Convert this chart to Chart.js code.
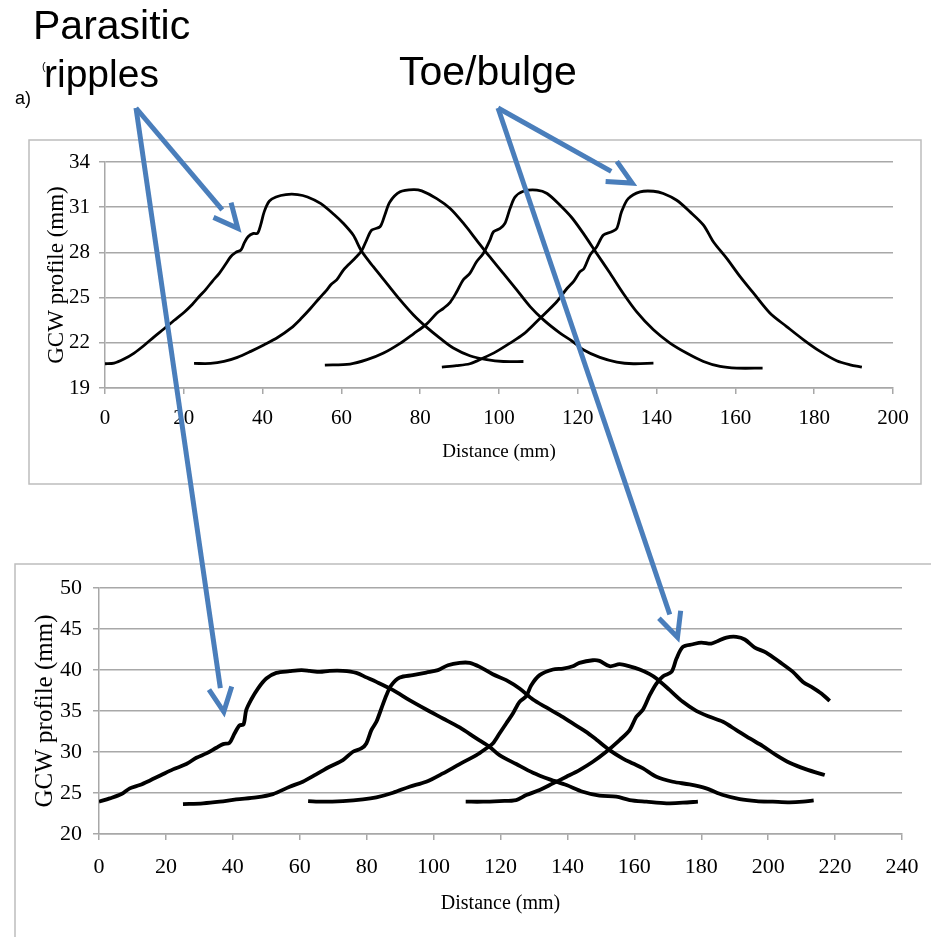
<!DOCTYPE html>
<html>
<head>
<meta charset="utf-8">
<title>GCW profiles</title>
<script src="https://cdn.jsdelivr.net/npm/chart.js@4.4.1/dist/chart.umd.min.js"></script>
<style>
html, body { margin: 0; padding: 0; background: #fff; width: 931px; height: 937px; overflow: hidden; }
canvas { position: absolute; }
#topChart { left: 28px; top: 139px; }
#bottomChart { left: 14px; top: 563px; }
#notes { left: 0; top: 0; pointer-events: none; }
</style>
</head>
<body>
<canvas id="topChart" width="894" height="346"></canvas>
<canvas id="bottomChart" width="930" height="384"></canvas>
<canvas id="notes" width="931" height="937"></canvas>
<script>
// [distance mm, GCW profile mm]
const topScan1 = [[0,20.61],[2.3,20.65],[4.8,20.92],[7.4,21.32],[9.9,21.82],[12.4,22.38],[15,22.93],[17.5,23.48],[20.1,24.03],[22.2,24.56],[23.9,25.07],[25.6,25.55],[27.3,26.1],[29,26.61],[30.6,27.21],[31.9,27.71],[33.2,28],[34.5,28.16],[35.3,28.6],[36.3,29.04],[37.7,29.26],[38.7,29.26],[39.5,29.81],[40.4,30.69],[41.7,31.4],[43.4,31.68],[45.9,31.84],[48.9,31.84],[51.4,31.68],[54.8,31.24],[58.2,30.5],[60.4,29.95],[63,29.15],[65.1,28.09],[68.1,27.05],[71.5,25.95],[74.9,24.85],[78.3,23.85],[81.6,23.04],[85,22.31],[88.4,21.65],[92.6,21.14],[96.9,20.88],[101.1,20.76],[106.2,20.76]];
const topScan2 = [[22.6,20.63],[26.8,20.63],[30.2,20.76],[33.6,21.03],[37,21.43],[40.4,21.87],[43.8,22.35],[47.2,22.97],[49.7,23.59],[52.2,24.29],[54.4,24.96],[56.1,25.45],[57.5,25.9],[58.8,26.17],[60.5,26.83],[61.7,27.16],[63.4,27.6],[65.1,28.09],[66.4,28.82],[67.7,29.48],[69.8,29.7],[71,30.47],[72.3,31.35],[74.9,32.02],[78.3,32.17],[80.4,32.08],[84.2,31.57],[87.6,30.91],[91,29.92],[94.3,28.82],[97.3,27.82],[101.1,26.61],[104.5,25.51],[107.9,24.4],[111.3,23.52],[115.5,22.64],[118.5,22.12],[121.4,21.54],[125.6,21.03],[129.9,20.72],[134.1,20.61],[139.2,20.65]];
const topScan3 = [[55.8,20.52],[62.2,20.59],[66.5,20.88],[70.7,21.32],[75,21.98],[78.3,22.6],[81.6,23.24],[84.2,23.96],[85.9,24.29],[87.6,24.69],[89.2,25.35],[90.9,26.17],[92.6,26.61],[94.3,27.38],[96,27.93],[97.7,28.82],[98.6,29.37],[100.3,29.59],[101.5,29.92],[102.8,30.91],[104.1,31.68],[106.2,32.06],[109.6,32.13],[112.2,31.91],[115.5,31.13],[118.5,30.3],[121.4,29.26],[124.8,27.93],[128.2,26.61],[131.5,25.29],[134.9,24.07],[139.2,22.86],[143.4,21.98],[147.6,21.32],[151.9,20.76],[156.1,20.43],[160.3,20.32],[166.9,20.32]];
const topScan4 = [[85.5,20.39],[89.2,20.48],[92.6,20.61],[96,20.99],[99.4,21.43],[102.8,21.98],[106.2,22.57],[109.6,23.41],[112.2,24.07],[114.7,24.74],[117.3,25.62],[119,26.1],[120.5,26.7],[121.6,26.94],[123.1,27.82],[124.8,28.38],[126.5,29.15],[128.6,29.37],[129.9,29.59],[131.1,30.69],[132.8,31.57],[135.8,32.02],[139.2,32.06],[141.7,31.91],[145.1,31.46],[148.5,30.69],[151.9,29.81],[154.4,28.71],[157.8,27.6],[161.2,26.39],[164.6,25.29],[168.8,23.96],[173,23.08],[177.3,22.2],[181.5,21.43],[185.7,20.81],[189.1,20.54],[192.1,20.39]];

const bottomScan1 = [[0,23.94],[3.2,24.34],[6.7,24.87],[9.2,25.56],[12.2,25.97],[15.1,26.5],[18.6,27.19],[22.1,27.88],[26.1,28.53],[29.1,29.3],[32.1,29.83],[35.1,30.52],[37.1,30.96],[39,31.12],[40.5,32.26],[42,33.24],[43.2,33.36],[44,35.1],[45.5,36.4],[47.5,37.74],[50,38.96],[53,39.65],[57,39.85],[60.5,39.98],[63,39.89],[66,39.77],[68.9,39.89],[72.9,39.89],[76.9,39.65],[79.9,39.1],[82.9,38.55],[87.9,37.54],[92.8,36.32],[97.8,35.18],[102.8,34.09],[107.8,32.99],[112.8,31.65],[116.7,30.64],[119.7,29.62],[124.7,28.53],[129.7,27.47],[134.7,26.66],[139.7,25.97],[144.6,25.16],[149.6,24.67],[154.6,24.55],[158.6,24.14],[163.6,23.94],[169.6,23.74],[174.5,23.82],[179,23.94]];
const bottomScan2 = [[25.1,23.65],[31.1,23.74],[36.1,23.94],[41,24.22],[47,24.47],[52,24.87],[57,25.77],[60.9,26.37],[64.9,27.27],[68.9,28.2],[72.9,29.01],[75.9,30.03],[78.4,30.43],[79.9,31.04],[81.4,32.67],[82.9,33.68],[84.4,35.31],[85.9,36.93],[87.4,38.15],[89.9,39.08],[93.8,39.37],[97.8,39.69],[101.3,39.98],[104.3,40.58],[107.8,40.87],[110.8,40.87],[113.8,40.38],[117.7,39.49],[121.7,38.76],[125.7,37.74],[129.7,36.4],[133.7,35.43],[137.7,34.49],[141.6,33.48],[145.6,32.46],[148.6,31.53],[152.6,30.23],[156.6,29.2],[159.6,28.6],[162.6,28],[166.6,26.98],[171.5,26.37],[176.5,26.05],[181.5,25.56],[186.5,24.75],[191.5,24.26],[196.5,24.02],[201.4,23.94],[206.4,23.86],[210.4,23.94],[213.6,24.1]];
const bottomScan3 = [[62.5,24.02],[66.9,23.94],[72.9,24.02],[78.9,24.22],[82.9,24.47],[87.9,25.03],[92.8,25.77],[97.8,26.37],[102.8,27.39],[107.8,28.53],[112.8,29.62],[115.7,30.43],[117.7,31.04],[119.7,32.26],[121.7,33.48],[123.7,34.7],[125.7,36.12],[127.7,36.81],[129.2,38.15],[131.7,39.37],[135.7,40.06],[138.7,40.18],[141.6,40.46],[143.6,40.87],[147.6,41.19],[149.6,41.11],[152.6,40.46],[155.6,40.71],[158.6,40.45],[161.6,40.06],[164.6,39.5],[166.6,38.96],[170.6,37.54],[174.5,36.12],[178.5,35.02],[182.5,34.29],[186.5,33.68],[190.5,32.67],[194.5,31.65],[198.4,30.72],[202.4,29.62],[206.4,28.69],[211.4,27.88],[216.9,27.19]];
const bottomScan4 = [[109.6,23.94],[114.8,23.94],[119.7,24.02],[124.7,24.14],[127.7,24.75],[131.7,25.36],[135.7,26.17],[139.7,26.98],[143.6,27.8],[147.6,28.81],[151.6,30.03],[155.6,31.45],[158.6,32.67],[160.6,34.29],[162.6,35.18],[164.6,36.93],[166.6,38.35],[168.6,39.24],[171.1,39.77],[172.6,41.4],[174.5,42.82],[177.5,43.14],[180,43.35],[183,43.22],[185,43.55],[187.5,43.96],[190.5,44.04],[193,43.72],[196,42.74],[199.4,42.13],[203.4,40.99],[207.4,39.77],[210.4,38.55],[213.4,37.82],[215.9,37.13],[218.4,36.24]];

// axis ranges / ticks
const topX = {min: 0, max: 200, step: 20};
const topY = {min: 19, max: 34, step: 3};
const bottomX = {min: 0, max: 240, step: 20};
const bottomY = {min: 20, max: 50, step: 5};

const xTitle = 'Distance (mm)';
const yTitle = 'GCW profile (mm)';

// annotation arrow tips, in data units of each panel
const rippleTipTop = [33.7, 29.6];
const rippleTipBottom = [37.3, 34.9];
const toeTipTop = [133.8, 32.6];
const toeTipBottom = [172.9, 44.0];

const serif = '"Liberation Serif", "Times New Roman", serif';
const gridGrey = '#a8a8a8';

const framePlugin = {
	id: 'frame',
	beforeDraw: (chart) => {
		const ctx = chart.ctx;
		ctx.save();
		ctx.fillStyle = '#fff';
		ctx.fillRect(0, 0, chart.width, chart.height);
		ctx.strokeStyle = '#bdbdbd';
		ctx.lineWidth = 1.5;
		ctx.strokeRect(1, 1, chart.width - 2, chart.height - 2);
		ctx.restore();
	}
};

function makePanel(id, scans, o) {
	return new Chart(document.getElementById(id), {
		type: 'line',
		data: {
			datasets: scans.map(scan => ({
				data: scan.map(p => ({x: p[0], y: p[1]})),
				borderColor: '#000',
				borderWidth: o.lineWidth,
				pointRadius: 0,
				tension: 0.3,
				fill: false
			}))
		},
		options: {
			responsive: false,
			animation: false,
			events: [],
			layout: {autoPadding: false, padding: o.padding},
			plugins: {legend: {display: false}, tooltip: {enabled: false}},
			scales: {
				x: {
					type: 'linear',
					min: o.x.min,
					max: o.x.max,
					ticks: {stepSize: o.x.step, color: '#000', padding: o.xTickPad, font: {family: serif, size: o.tickSize}},
					grid: {drawOnChartArea: false, drawTicks: true, tickLength: 6, color: gridGrey, lineWidth: 1.5},
					border: {display: true, color: gridGrey, width: 1.5},
					title: {display: true, text: xTitle, color: '#000', font: {family: serif, size: o.xTitleSize}, padding: {top: 0, bottom: o.xTitlePad}},
					afterFit: (scale) => { scale.height = o.xAxisHeight; }
				},
				y: {
					min: o.y.min,
					max: o.y.max,
					ticks: {stepSize: o.y.step, color: '#000', padding: o.yTickPad, font: {family: serif, size: o.tickSize}},
					grid: {drawTicks: true, tickLength: 6, color: gridGrey, lineWidth: 1.5},
					border: {display: true, color: gridGrey, width: 1.5},
					title: {display: true, text: yTitle, color: '#000', font: {family: serif, size: o.yTitleSize}, padding: {top: o.yTitlePad, bottom: 0}},
					afterFit: (scale) => { scale.width = o.yAxisWidth; }
				}
			}
		},
		plugins: [framePlugin]
	});
}

const topChart = makePanel('topChart', [topScan1, topScan2, topScan3, topScan4], {
	x: topX, y: topY, lineWidth: 2.8, tickSize: 21,
	padding: {left: 0, right: 29, top: 23, bottom: 0},
	xAxisHeight: 97, yAxisWidth: 77,
	xTickPad: 12, yTickPad: 9,
	xTitleSize: 19, xTitlePad: 22,
	yTitleSize: 23, yTitlePad: 15
});

const bottomChart = makePanel('bottomChart', [bottomScan1, bottomScan2, bottomScan3, bottomScan4], {
	x: bottomX, y: bottomY, lineWidth: 3.8, tickSize: 22,
	padding: {left: 0, right: 42, top: 25, bottom: 0},
	xAxisHeight: 113, yAxisWidth: 85,
	xTickPad: 14, yTickPad: 11,
	xTitleSize: 20, xTitlePad: 31,
	yTitleSize: 25, yTitlePad: 16
});

// annotations on top of both panels
const notes = document.getElementById('notes').getContext('2d');

function pagePoint(chart, p) {
	const box = chart.canvas.getBoundingClientRect();
	return [box.left + chart.scales.x.getPixelForValue(p[0]), box.top + chart.scales.y.getPixelForValue(p[1])];
}

function arrow(from, to) {
	const dx = to[0] - from[0], dy = to[1] - from[1];
	const len = Math.hypot(dx, dy);
	const ux = dx / len, uy = dy / len;
	const headLen = 24, headHalf = 11.5;
	const bx = to[0] - ux * headLen, by = to[1] - uy * headLen;
	notes.beginPath();
	notes.moveTo(from[0], from[1]);
	notes.lineTo(bx, by);
	notes.stroke();
	notes.beginPath();
	notes.moveTo(bx - uy * headHalf, by + ux * headHalf);
	notes.lineTo(to[0], to[1]);
	notes.lineTo(bx + uy * headHalf, by - ux * headHalf);
	notes.stroke();
}

notes.strokeStyle = '#4a7ebb';
notes.lineWidth = 5;
notes.lineCap = 'butt';
notes.lineJoin = 'miter';
const rippleStart = [136, 108];
const toeStart = [498, 108];
arrow(rippleStart, pagePoint(topChart, rippleTipTop));
arrow(rippleStart, pagePoint(bottomChart, rippleTipBottom));
arrow(toeStart, pagePoint(topChart, toeTipTop));
arrow(toeStart, pagePoint(bottomChart, toeTipBottom));

notes.fillStyle = '#000';
notes.font = '41px "Liberation Sans", Arial, sans-serif';
notes.fillText('Parasitic', 33, 39);
notes.font = '39px "Liberation Sans", Arial, sans-serif';
notes.fillText('ripples', 44, 87);
notes.font = '41px "Liberation Sans", Arial, sans-serif';
notes.fillText('Toe/bulge', 399, 85);
notes.font = '18px "Liberation Sans", Arial, sans-serif';
notes.fillText('a)', 15, 104);
notes.font = '11px "Liberation Sans", Arial, sans-serif';
notes.fillText('(', 42, 70);
</script>
</body>
</html>
